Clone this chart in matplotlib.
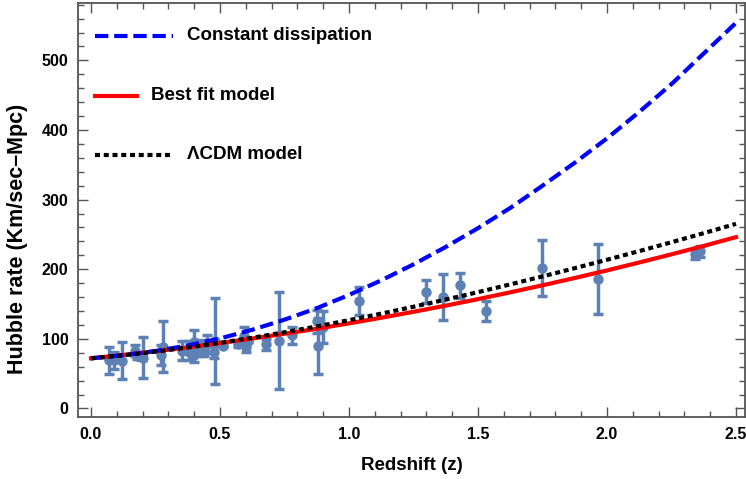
"""Hubble rate H(z) vs redshift: OHD data with three model curves."""
import matplotlib
matplotlib.use("Agg")
import matplotlib.pyplot as plt
from matplotlib.ticker import MultipleLocator

plt.rcParams["font.family"] = ["Liberation Sans", "DejaVu Sans"]
plt.rcParams["font.weight"] = "bold"

z_obs = [0.07, 0.09, 0.12, 0.17, 0.179, 0.199, 0.2, 0.27, 0.28, 0.352,
         0.38, 0.3802, 0.4, 0.4004, 0.4247, 0.43, 0.44, 0.4497, 0.4783, 0.48,
         0.51, 0.57, 0.593, 0.6, 0.61, 0.68, 0.73, 0.781, 0.875, 0.88,
         0.9, 1.037, 1.3, 1.363, 1.43, 1.53, 1.75, 1.965, 2.34, 2.36]
h_obs = [69, 69, 68.6, 83, 75, 75, 72.9, 77, 88.8, 83,
         81.5, 83, 95, 77, 87.1, 86.5, 82.6, 92.8, 80.9, 97,
         90.4, 92.4, 104, 87.9, 97.3, 92, 97.3, 105, 125, 90,
         117, 154, 168, 160, 177, 140, 202, 186.5, 222, 226]
h_err = [19.6, 12, 26.2, 8, 4, 5, 29.6, 14, 36.6, 14,
         1.9, 13.5, 17, 10.2, 11.2, 3.7, 7.8, 12.9, 9, 62,
         1.9, 4.5, 13, 6.1, 2.1, 8, 70, 12, 17, 40,
         23, 20, 17, 33.6, 18, 14, 40, 50.4, 7, 8]

# model curves, read at steps of 0.125 in z
z_mod = [0.0, 0.125, 0.25, 0.375, 0.5, 0.625, 0.75, 0.875, 1.0, 1.125, 1.25,
         1.375, 1.5, 1.625, 1.75, 1.875, 2.0, 2.125, 2.25, 2.375, 2.5]
h_const = [72, 76.4, 82.5, 90.5, 100.5, 113, 127.5, 144, 163, 184, 207,
           232, 259, 288, 320, 353, 388, 426, 466, 510, 554]
h_best = [72, 76.9, 82.1, 87.8, 93.9, 100.4, 107.3, 114.5, 122.2, 130.3, 138.8,
          147.7, 157.0, 166.8, 176.9, 187.4, 198.3, 209.7, 221.4, 233.5, 246.1]
h_lcdm = [72, 76.4, 81.6, 87.6, 94.2, 101.5, 109.4, 117.8, 126.8, 136.2, 146.1,
          156.4, 167.1, 178.2, 189.7, 201.5, 213.6, 226.0, 238.8, 251.8, 265.2]

legend_rows = [
    ("Constant dissipation", dict(color="blue", lw=3.0, dashes=(3.2, 1.4)), 0.142),
    ("Best fit model", dict(color="red", lw=3.0), 0.088),
    ("\u039bCDM model", dict(color="black", lw=3.0, dashes=(1.2, 0.9)), 0.142),
]

FRAME = "#555555"
PTS = "#5e81b5"

fig = plt.figure(figsize=(7.46, 4.79), dpi=100)
ax = fig.add_axes([0.105, 0.129, 0.8937, 0.8655])

ax.errorbar(z_obs, h_obs, yerr=h_err, fmt="o", color=PTS, ms=6.5, lw=2.5,
            capsize=3.3, capthick=2.5, zorder=2)
ax.plot(z_mod, h_best, **legend_rows[1][1], zorder=3)
ax.plot(z_mod, h_const, **legend_rows[0][1], zorder=4)
ax.plot(z_mod, h_lcdm, **legend_rows[2][1], zorder=5)

# hand-placed legend, like the in-plot one of the original
for (label, style, x_end), y in zip(legend_rows, [0.920, 0.775, 0.633]):
    ax.plot([0.025, x_end], [y, y], transform=ax.transAxes, **style)
    ax.text(x_end + 0.021, y, label, transform=ax.transAxes, va="center",
            ha="left", fontsize=13.5, fontweight="bold")

ax.set_xlim(-0.049, 2.535)
ax.set_ylim(-12.6, 583)
ax.xaxis.set_major_locator(MultipleLocator(0.5))
ax.xaxis.set_minor_locator(MultipleLocator(0.1))
ax.yaxis.set_major_locator(MultipleLocator(100))
ax.yaxis.set_minor_locator(MultipleLocator(20))
ax.xaxis.set_major_formatter(lambda v, p: f"{v:.1f}")
ax.tick_params(which="both", direction="in", top=True, right=True,
               color=FRAME, width=1.0, labelsize=11.5, pad=7)
ax.tick_params(which="major", length=7)
ax.tick_params(which="minor", length=4)
for lab in ax.get_xticklabels() + ax.get_yticklabels():
    lab.set_fontweight("bold")
for sp in ax.spines.values():
    sp.set_color(FRAME)
    sp.set_linewidth(1.3)

ax.set_xlabel("Redshift (z)", fontsize=13.5, fontweight="bold", labelpad=11)
ax.set_ylabel("Hubble rate (Km/sec\u2013Mpc)", fontsize=15.5, fontweight="bold")
ax.yaxis.set_label_coords(-0.076, 0.43)

fig.savefig("out.png", dpi=100)
